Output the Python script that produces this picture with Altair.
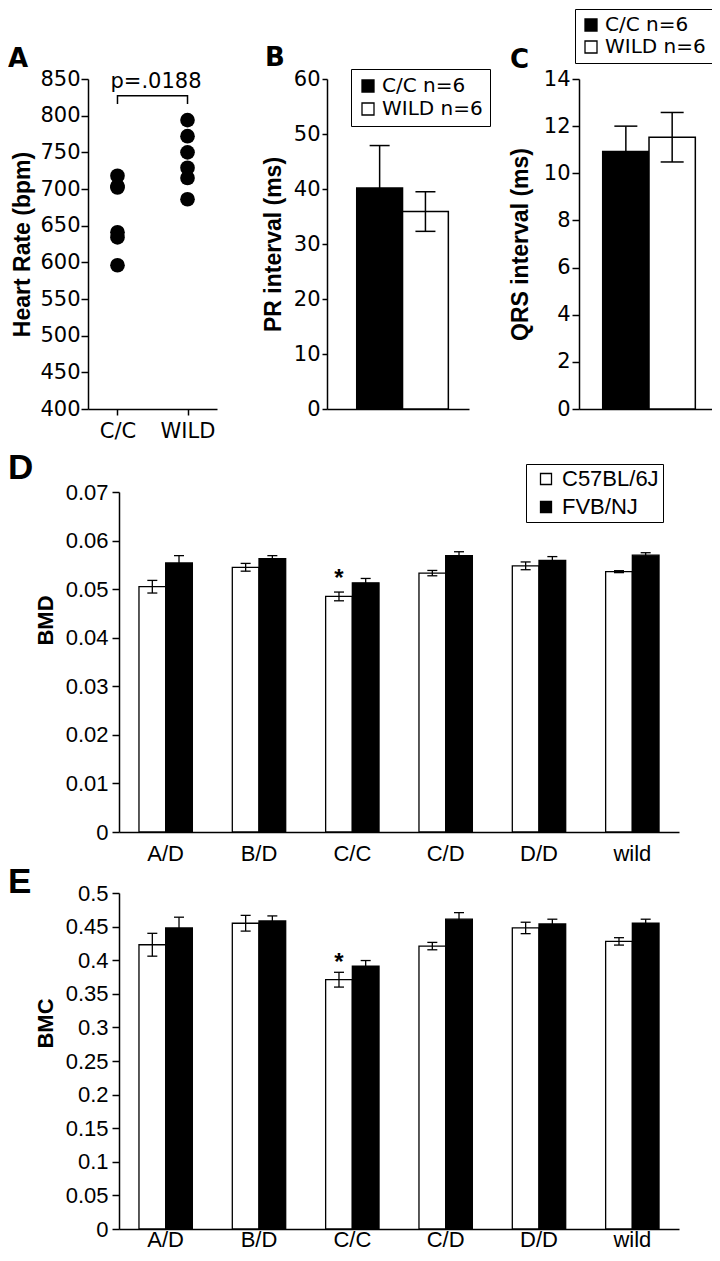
import altair as alt
import pandas as pd

# ---------------- data ----------------
# Panel A: heart rate
hr_groups = ["C/C", "WILD"]
hr_cc = [718, 704, 702, 641, 634, 596]
hr_wild = [794, 772, 750, 729, 715, 686]
hr_ticks = [400, 450, 500, 550, 600, 650, 700, 750, 800, 850]
hr_pvalue = "p=.0188"
bracket_groups = ["C/C", "C/C", "WILD", "WILD"]
bracket_levels = [816, 827, 827, 816]
pvalue_level = 838

# Panels B, C: ECG intervals
ecg_groups = ["C/C", "WILD"]
ecg_n = [6, 6]
pr_mean = [40.2, 35.9]
pr_sem = [7.7, 3.6]
pr_ticks = [0, 10, 20, 30, 40, 50, 60]
qrs_mean = [10.92, 11.53]
qrs_sem = [1.08, 1.05]
qrs_ticks = [0, 2, 4, 6, 8, 10, 12, 14]

# Panels D, E: bone measures
genotypes = ["A/D", "B/D", "C/C", "C/D", "D/D", "wild"]
strains = ["C57BL/6J", "FVB/NJ"]
bmd_b6 = [0.0505, 0.0545, 0.0485, 0.0533, 0.0548, 0.0536]
bmd_b6_err = [0.0013, 0.0008, 0.0009, 0.00055, 0.0008, 0.0002]
bmd_fvb = [0.0554, 0.0563, 0.0513, 0.0569, 0.0559, 0.0570]
bmd_fvb_err = [0.0015, 0.0006, 0.0009, 0.0008, 0.0008, 0.0005]
bmd_ticks = [0, 0.01, 0.02, 0.03, 0.04, 0.05, 0.06, 0.07]
bmc_b6 = [0.423, 0.455, 0.371, 0.421, 0.448, 0.428]
bmc_b6_err = [0.017, 0.0117, 0.011, 0.0055, 0.0085, 0.0055]
bmc_fvb = [0.448, 0.4585, 0.391, 0.461, 0.454, 0.455]
bmc_fvb_err = [0.016, 0.0074, 0.0085, 0.0098, 0.007, 0.006]
bmc_ticks = [0, 0.05, 0.1, 0.15, 0.2, 0.25, 0.3, 0.35, 0.4, 0.45, 0.5]
star_genotype = "C/C"
star_strain = "C57BL/6J"
star_bmd = 0.0506
star_bmc = 0.386

TOP = "DejaVu Sans"
LIB = "Liberation Sans"


def letter(txt, dx, dy, font, size):
    return alt.TitleParams(txt, anchor="start", frame="group", dx=dx, dy=dy, offset=0,
                           baseline="alphabetic", font=font, fontSize=size,
                           fontWeight="bold", color="black")


def left_axis(title, values, title_x, title_y, font, size, tfont, tsize, tick, pad, offset=0, fmt=None):
    kw = dict(values=values, title=title, titleX=title_x, titleY=title_y, titleAngle=270,
              titleAlign="center", titleBaseline="middle", titleFont=tfont,
              titleFontSize=tsize, titleFontWeight="bold", titleColor="black",
              labelFont=font, labelFontSize=size, labelColor="black", tickSize=tick,
              labelPadding=pad, tickWidth=1.5, domainWidth=1.5, tickColor="black",
              domainColor="black", grid=False, labelOverlap=False, offset=offset)
    if fmt:
        kw["format"] = fmt
    return alt.Axis(**kw)


# ---------------- Panel A ----------------
df_hr = pd.DataFrame({"grp": ["C/C"] * len(hr_cc) + ["WILD"] * len(hr_wild),
                      "hr": hr_cc + hr_wild})
df_br = pd.DataFrame({"grp": bracket_groups, "hr": bracket_levels,
                      "seq": list(range(len(bracket_groups)))})
df_p = pd.DataFrame({"grp": [hr_groups[0]], "hr": [pvalue_level], "txt": [hr_pvalue]})

xA = alt.X("grp:N", scale=alt.Scale(type="point", domain=hr_groups, padding=0.421),
           axis=alt.Axis(title=None, labelAngle=0, labelFont=TOP, labelFontSize=21,
                         labelColor="black", tickSize=6, tickWidth=1.5, tickColor="black",
                         labelPadding=5, domainWidth=1.5, domainColor="black", grid=False))
yA = alt.Y("hr:Q", scale=alt.Scale(domain=[hr_ticks[0], hr_ticks[-1]], nice=False, zero=False),
           axis=left_axis("Heart Rate (bpm)", hr_ticks, -66, 165, TOP, 21, LIB, 23, 7, 1))

pts = alt.Chart(df_hr).mark_circle(size=215, color="black", opacity=1).encode(x=xA, y=yA)
bracket = alt.Chart(df_br).mark_line(color="black", strokeWidth=1.5).encode(
    x=xA, y=yA, order="seq:Q")
ptext = alt.Chart(df_p).mark_text(align="left", baseline="alphabetic", dx=-7, font=TOP,
                                  fontSize=21, color="black").encode(x=xA, y=yA, text="txt:N")
panelA = alt.layer(pts, bracket, ptext).properties(
    width=129, height=330, title=letter("A", -80, 25, TOP, 26))

# ---------------- Panels B, C ----------------
ecg_labels = [f"{g} n={n}" for g, n in zip(ecg_groups, ecg_n)]


def ecg_panel(means, sems, ticks, ytitle, title_x, width, pad_outer, align, cap,
              leg_x, leg_y, leg_pad, leg_row, let, let_dx, let_dy, tick, pad):
    df = pd.DataFrame({"grp": ecg_labels, "mean": means,
                       "lo": [m - s for m, s in zip(means, sems)],
                       "hi": [m + s for m, s in zip(means, sems)]})
    xs = alt.Scale(domain=ecg_labels, paddingInner=0, paddingOuter=pad_outer, align=align)
    ys = alt.Scale(domain=[ticks[0], ticks[-1]], nice=False)
    xax = alt.Axis(title=None, labels=False, ticks=False, domainWidth=1.5,
                   domainColor="black", grid=False)
    yax = left_axis(ytitle, ticks, title_x, 165, TOP, 21, LIB, 23, tick, pad)
    x = alt.X("grp:N", scale=xs, axis=xax)
    bars = alt.Chart(df).mark_bar(stroke="black", strokeWidth=1.5).encode(
        x=x,
        y=alt.Y("mean:Q", scale=ys, axis=yax),
        fill=alt.Fill("grp:N", scale=alt.Scale(domain=ecg_labels, range=["black", "white"]),
                      legend=alt.Legend(orient="none", legendX=leg_x, legendY=leg_y, title=None,
                                        direction="vertical", strokeColor="black",
                                        fillColor="white", padding=leg_pad, symbolType="square",
                                        symbolSize=144, symbolStrokeColor="black",
                                        symbolStrokeWidth=1.3, labelFont=TOP, labelFontSize=20,
                                        labelColor="black", rowPadding=leg_row, labelOffset=4)))
    rule = alt.Chart(df).mark_rule(color="black", strokeWidth=1.5).encode(
        x=x, y=alt.Y("lo:Q", scale=ys, axis=yax), y2="hi:Q")
    cap_lo = alt.Chart(df).mark_tick(color="black", size=cap, thickness=1.5, opacity=1).encode(
        x=x, y=alt.Y("lo:Q", scale=ys, axis=yax))
    cap_hi = alt.Chart(df).mark_tick(color="black", size=cap, thickness=1.5, opacity=1).encode(
        x=x, y=alt.Y("hi:Q", scale=ys, axis=yax))
    return alt.layer(bars, rule, cap_lo, cap_hi).properties(
        width=width, height=330, title=letter(let, let_dx, let_dy, TOP, 26))


panelB = ecg_panel(pr_mean, pr_sem, pr_ticks, "PR interval (ms)", -54, 142, 0.55, 0.59, 20,
                   24, -10, 7, 3, "B", -62, 24, 5, 2)
panelC = ecg_panel(qrs_mean, qrs_sem, qrs_ticks, "QRS interval (ms)", -59, 133, 0.436, 0.587, 23,
                   -4, -70, 6, 2, "C", -69, 85, 7, 2)

# ---------------- Panels D, E ----------------


def bone_panel(b6, b6e, fvb, fvbe, ticks, ytitle, title_y, height, let, let_dy,
               label_pad, show_legend, star_y):
    rows = []
    for i, g in enumerate(genotypes):
        rows.append({"geno": g, "strain": strains[0], "val": b6[i],
                     "lo": b6[i] - b6e[i], "hi": b6[i] + b6e[i]})
        rows.append({"geno": g, "strain": strains[1], "val": fvb[i],
                     "lo": fvb[i] - fvbe[i], "hi": fvb[i] + fvbe[i]})
    df = pd.DataFrame(rows)
    xs = alt.Scale(domain=genotypes, range=[31, 591], paddingInner=0.428, paddingOuter=0.214)
    xo = alt.XOffset("strain:N", scale=alt.Scale(domain=strains, paddingInner=0, paddingOuter=0))
    ys = alt.Scale(domain=[ticks[0], ticks[-1]], nice=False)
    xax = alt.Axis(title=None, ticks=False, tickSize=0, labelPadding=label_pad,
                   labelAngle=0, labelFont=LIB, labelFontSize=22,
                   labelColor="black", domainWidth=1.5, domainColor="black", grid=False)
    yax = left_axis(ytitle, ticks, -74, title_y, LIB, 22, LIB, 22, 7, 4, offset=-31, fmt="~g")
    x = alt.X("geno:N", scale=xs, axis=xax)
    if show_legend:
        leg = alt.Legend(orient="none", legendX=438, legendY=-28, title=None,
                         direction="vertical", strokeColor="black", fillColor="white",
                         padding=4, symbolType="square", symbolSize=121, symbolOffset=5,
                         symbolStrokeColor="black", symbolStrokeWidth=1.3, labelFont=LIB,
                         labelFontSize=22, labelColor="black", rowPadding=6, labelOffset=5)
    else:
        leg = None
    bars = alt.Chart(df).mark_bar(stroke="black", strokeWidth=1.3).encode(
        x=x, xOffset=xo,
        y=alt.Y("val:Q", scale=ys, axis=yax),
        fill=alt.Fill("strain:N", scale=alt.Scale(domain=strains, range=["white", "black"]),
                      legend=leg))
    rule = alt.Chart(df).mark_rule(color="black", strokeWidth=1.3).encode(
        x=x, xOffset=xo, y=alt.Y("lo:Q", scale=ys, axis=yax), y2="hi:Q")
    cap_lo = alt.Chart(df).mark_tick(color="black", size=10, thickness=1.3, opacity=1).encode(
        x=x, xOffset=xo, y=alt.Y("lo:Q", scale=ys, axis=yax))
    cap_hi = alt.Chart(df).mark_tick(color="black", size=10, thickness=1.3, opacity=1).encode(
        x=x, xOffset=xo, y=alt.Y("hi:Q", scale=ys, axis=yax))
    df_star = pd.DataFrame({"geno": [star_genotype], "strain": [star_strain], "sy": [star_y]})
    star = alt.Chart(df_star).mark_text(text="*", font=LIB, fontSize=24, fontWeight="bold",
                                        baseline="alphabetic", color="black").encode(
        x=x, xOffset=xo, y=alt.Y("sy:Q", scale=ys, axis=yax))
    return alt.layer(bars, rule, cap_lo, cap_hi, star).properties(
        width=591, height=height, title=letter(let, -80, let_dy, LIB, 35))


panelD = bone_panel(bmd_b6, bmd_b6_err, bmd_fvb, bmd_fvb_err, bmd_ticks, "BMD", 128, 340,
                    "D", 50, 11, True, star_bmd)
panelE = bone_panel(bmc_b6, bmc_b6_err, bmc_fvb, bmc_fvb_err, bmc_ticks, "BMC", 130, 336,
                    "E", 46, 0, False, star_bmc)

row1 = alt.hconcat(panelA, panelB, panelC, spacing=110, bounds="flush").resolve_scale(
    x="independent", y="independent", fill="independent").resolve_legend(fill="independent")
rowDE = alt.vconcat(panelD, panelE, spacing=61, bounds="flush").resolve_scale(
    x="independent", y="independent", fill="independent").resolve_legend(fill="independent")

chart = alt.vconcat(row1, rowDE, spacing=413, bounds="flush").resolve_scale(
    x="independent", y="independent", fill="independent").resolve_legend(
    fill="independent").properties(
    autosize=alt.AutoSizeParams(type="none"),
    padding={"left": 80, "top": 71, "right": 624, "bottom": 1174}
).configure_view(stroke=None).configure_axis(grid=False)

chart.save("out.html", embed_options={"renderer": "svg", "actions": False})
